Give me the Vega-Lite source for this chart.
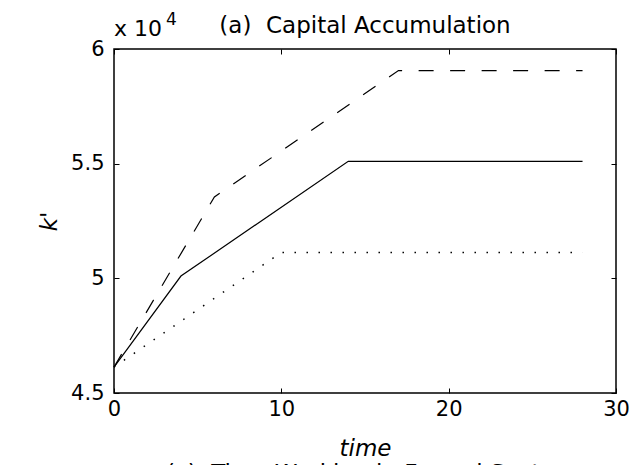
{
  "$schema": "https://vega.github.io/schema/vega-lite/v6.json",
  "width": 502,
  "height": 344,
  "autosize": {"type": "none"},
  "padding": {"left": 114, "top": 49, "right": 19, "bottom": 72},
  "background": "white",
  "config": {
    "font": "DejaVu Sans",
    "view": {"stroke": "black", "strokeWidth": 1.5},
    "axis": {
      "grid": false,
      "domain": false,
      "ticks": true,
      "tickColor": "black",
      "tickWidth": 1,
      "tickSize": -5,
      "labelColor": "black",
      "labelFont": "DejaVu Sans",
      "labelFontSize": 21,
      "titleColor": "black",
      "titleFont": "DejaVu Sans",
      "titleFontSize": 23,
      "titleFontWeight": "normal",
      "titleFontStyle": "italic"
    }
  },
  "title": {
    "text": "(a)\u00a0 Capital Accumulation",
    "font": "DejaVu Sans",
    "fontSize": 23,
    "fontWeight": "normal",
    "color": "black",
    "anchor": "middle",
    "frame": "group",
    "baseline": "alphabetic",
    "offset": -45
  },
  "data": {
    "values": [
      {"series": "A", "time": 0, "k": 46130},
      {"series": "A", "time": 4, "k": 50100},
      {"series": "A", "time": 14, "k": 55100},
      {"series": "A", "time": 28, "k": 55100},
      {"series": "B", "time": 0, "k": 46130},
      {"series": "B", "time": 6, "k": 53550},
      {"series": "B", "time": 17, "k": 59060},
      {"series": "B", "time": 28, "k": 59060},
      {"series": "C", "time": 0, "k": 46130},
      {"series": "C", "time": 10, "k": 51130},
      {"series": "C", "time": 28, "k": 51130}
    ]
  },
  "layer": [
    {
      "transform": [{"filter": "datum.series == 'A'"}],
      "mark": {"type": "line", "color": "black", "strokeWidth": 1.2},
      "encoding": {
        "x": {
          "field": "time", "type": "quantitative",
          "scale": {"domain": [0, 30], "nice": false, "zero": false},
          "axis": {"orient": "bottom", "values": [0, 10, 20, 30], "title": "time", "labelPadding": 10, "titlePadding": 18, "labelFlush": false}
        },
        "y": {
          "field": "k", "type": "quantitative",
          "scale": {"domain": [45000, 60000], "nice": false, "zero": false},
          "axis": {"orient": "left", "values": [45000, 50000, 55000, 60000], "labelExpr": "format(datum.value / 10000, '')", "title": "k'", "labelPadding": 15, "titlePadding": 9, "labelFlush": false}
        }
      }
    },
    {
      "transform": [{"filter": "datum.series == 'B'"}],
      "mark": {"type": "line", "color": "black", "strokeWidth": 1.2, "strokeDash": [15, 16.5]},
      "encoding": {
        "x": {"field": "time", "type": "quantitative", "axis": null},
        "y": {"field": "k", "type": "quantitative", "axis": null}
      }
    },
    {
      "transform": [{"filter": "datum.series == 'C'"}],
      "mark": {"type": "line", "color": "black", "strokeWidth": 1.5, "strokeDash": [1.5, 10.5]},
      "encoding": {
        "x": {
          "field": "time", "type": "quantitative",
          "axis": {"orient": "top", "values": [0, 10, 20, 30], "labels": false, "title": null}
        },
        "y": {
          "field": "k", "type": "quantitative",
          "axis": {"orient": "right", "values": [45000, 50000, 55000, 60000], "labels": false, "title": null}
        }
      }
    },
    {
      "data": {"values": [{"label": "x 10"}]},
      "mark": {"type": "text", "align": "left", "baseline": "alphabetic", "fontSize": 22, "color": "black", "dx": 0, "dy": -13},
      "encoding": {
        "x": {"datum": 0, "type": "quantitative", "axis": null},
        "y": {"datum": 60000, "type": "quantitative", "axis": null},
        "text": {"field": "label"}
      }
    },
    {
      "data": {"values": [{"label": "4"}]},
      "mark": {"type": "text", "align": "left", "baseline": "alphabetic", "fontSize": 17, "color": "black", "dx": 52, "dy": -24},
      "encoding": {
        "x": {"datum": 0, "type": "quantitative", "axis": null},
        "y": {"datum": 60000, "type": "quantitative", "axis": null},
        "text": {"field": "label"}
      }
    },
    {
      "data": {"values": [{"label": "(c)\u00a0 Time Working in Formal Sector"}]},
      "mark": {"type": "text", "align": "center", "baseline": "alphabetic", "fontSize": 23, "color": "black", "dy": 88},
      "encoding": {
        "x": {"datum": 15, "type": "quantitative", "axis": null},
        "y": {"datum": 45000, "type": "quantitative", "axis": null},
        "text": {"field": "label"}
      }
    }
  ],
  "resolve": {"axis": {"x": "independent", "y": "independent"}}
}
